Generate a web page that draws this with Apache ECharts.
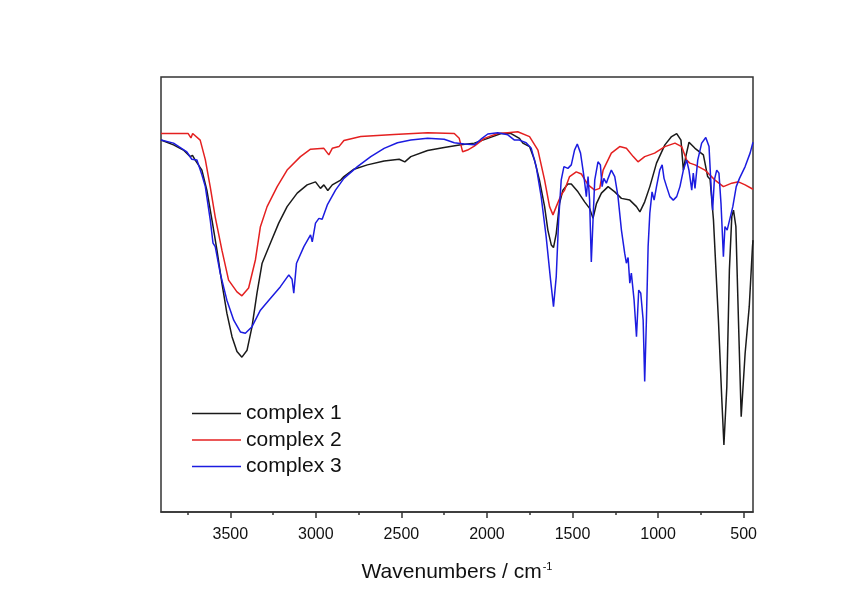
<!DOCTYPE html>
<html>
<head>
<meta charset="UTF-8" />
<title>IR spectra</title>
<script src="https://cdn.jsdelivr.net/npm/echarts@6/dist/echarts.min.js"></script>
<style>
  html, body { margin: 0; padding: 0; background: #fff; }
  #main { width: 858px; height: 606px; }
</style>
</head>
<body>
<div id="main"></div>
<script>
// wavenumber (cm-1) and transmittance (arb., 0-100)
var wn1 = [3905,3832,3774,3734,3721,3705,3666,3637,3607,3578,3549,3520,3490,3461,3432,3402,3373,3344,3314,3266,3217,3168,3109,3051,3002,2973,2953,2930,2904,2855,2836,2777,2699,2601,2513,2480,2445,2347,2250,2152,2074,1995,1917,1859,1810,1790,1751,1722,1693,1663,1644,1624,1611,1595,1576,1556,1527,1507,1468,1429,1400,1380,1360,1331,1292,1253,1214,1165,1126,1106,1078,1048,1009,960,921,891,866,852,838,819,784,735,710,696,676,647,628,615,598,583,569,559,545,530,514,491,467,448,445];
var t1  = [85.5,84.4,83.2,81.7,82.0,80.9,78.6,74.0,67.1,60.2,52.6,45.7,40.3,36.9,35.6,37.2,42.6,50.3,57.2,61.8,66.4,70.2,73.3,75.2,75.9,74.4,75.2,73.9,75.2,76.3,77.1,78.8,79.8,80.7,81.1,80.5,81.7,83.1,83.8,84.4,84.8,85.9,87.0,87.0,85.9,84.8,84.0,80.9,76.3,70.2,64.8,61.4,60.8,64.0,70.9,74.0,75.4,75.4,73.6,71.3,69.8,67.5,70.9,73.3,74.8,73.6,72.1,71.7,70.2,69.0,71.3,74.8,80.2,84.4,86.3,87.0,85.5,78.6,81.7,85.0,83.6,82.1,77.1,76.5,67.1,44.1,26.5,15.4,28.8,55.6,67.9,69.4,65.6,44.1,21.9,36.5,47.2,61.0,62.5];

var wn2 = [3905,3746,3730,3720,3676,3646,3617,3588,3549,3510,3461,3432,3393,3353,3324,3285,3226,3168,3090,3031,2953,2924,2904,2865,2836,2738,2543,2347,2191,2162,2142,2113,2074,2015,1937,1878,1820,1751,1702,1663,1634,1614,1595,1566,1546,1517,1478,1448,1409,1370,1341,1321,1273,1224,1185,1145,1117,1078,1020,960,901,862,833,814,784,726,667,618,569,530,491,445];
var t2  = [87.0,87.0,86.0,87.0,85.5,81.0,74.7,67.8,60.2,53.3,50.6,49.7,51.5,58.0,65.6,70.2,74.8,78.6,81.7,83.4,83.6,82.1,83.6,84.0,85.4,86.3,86.8,87.2,87.0,85.9,82.8,83.2,84.1,85.9,87.0,87.2,87.4,86.3,83.2,76.3,70.2,68.3,70.2,72.9,74.0,77.1,78.2,77.7,75.2,74.0,74.4,78.6,82.5,84.0,83.6,81.7,80.5,81.7,82.5,84.0,84.8,84.0,80.9,80.2,79.8,78.6,76.3,74.8,75.6,75.9,75.2,74.2];

var wn3 = [3905,3832,3754,3725,3695,3666,3646,3617,3601,3588,3559,3520,3480,3441,3412,3373,3324,3266,3207,3158,3139,3129,3113,3070,3031,3021,3002,2982,2963,2933,2885,2836,2757,2679,2601,2523,2445,2347,2250,2191,2133,2074,2035,1995,1937,1878,1839,1810,1771,1741,1712,1683,1654,1628,1611,1595,1581,1566,1550,1527,1507,1488,1472,1453,1433,1419,1409,1400,1390,1380,1370,1351,1337,1327,1317,1302,1292,1273,1253,1234,1214,1195,1185,1175,1165,1156,1140,1126,1113,1101,1087,1078,1068,1058,1048,1035,1023,1009,990,976,965,950,931,911,891,872,852,833,819,803,794,784,768,745,721,702,690,681,671,657,644,632,618,609,596,582,563,543,524,491,462,445];
var t3  = [85.5,84.8,82.8,81.1,80.9,77.5,74.8,67.1,61.8,61.0,54.9,48.7,44.1,41.4,41.1,42.6,46.4,49.1,51.8,54.5,53.5,50.3,57.2,61.0,63.7,62.1,66.4,67.5,67.3,70.6,74.0,76.7,79.4,81.7,83.6,84.9,85.5,85.9,85.7,84.9,84.6,84.4,85.7,86.9,87.2,86.7,85.5,85.5,84.9,83.6,79.4,72.5,63.3,53.3,47.2,54.1,67.1,76.3,79.4,79.0,79.8,83.2,84.6,82.5,77.1,72.5,77.1,71.7,57.5,67.1,76.3,80.5,79.8,74.8,76.7,75.6,76.7,78.6,77.1,72.5,64.8,59.5,57.2,58.5,52.6,54.9,48.7,40.3,51.0,50.3,44.1,30.0,44.1,61.0,68.7,73.6,71.7,74.8,78.6,79.8,76.7,74.8,72.5,71.7,72.5,74.8,78.6,80.9,78.5,74.0,77.9,74.4,80.9,84.8,86.1,84.0,74.8,69.4,76.3,78.6,77.9,70.9,58.7,65.6,64.8,67.1,70.2,74.8,76.7,79.4,82.5,85.0];

var names = ['complex 1', 'complex 2', 'complex 3'];
var colors = ['#1a1a1a', '#e42020', '#1c1ce0'];
var majorTicks = [500, 1000, 1500, 2000, 2500, 3000, 3500];
var minorTicks = [750, 1250, 1750, 2250, 2750, 3250, 3750];

function zip(a, b) {
    var out = [];
    for (var i = 0; i < a.length; i++) out.push([a[i], b[i]]);
    return out;
}

var chart = echarts.init(document.getElementById('main'), null, { renderer: 'canvas' });

var seriesData = [zip(wn1, t1), zip(wn2, t2), zip(wn3, t3)];
var font = 'Liberation Sans, Arial, sans-serif';

var option = {
    backgroundColor: '#fff',
    animation: false,
    grid: {
        left: 161, right: 105, top: 77, bottom: 94,
        show: true, borderColor: '#333', borderWidth: 1.5
    },
    legend: {
        orient: 'vertical',
        left: 192, top: 403,
        padding: 0,
        icon: 'rect',
        itemWidth: 49, itemHeight: 1.6,
        itemGap: 5.5,
        textStyle: { fontFamily: font, fontSize: 21, color: '#111' },
        data: names
    },
    xAxis: [{
        type: 'value',
        inverse: true,
        min: 445, max: 3905,
        axisLine: { show: true, lineStyle: { color: '#333', width: 1.5 } },
        axisTick: { show: true, customValues: majorTicks, length: 6, inside: false, lineStyle: { color: '#333', width: 1.5 } },
        axisLabel: {
            customValues: majorTicks, margin: 15,
            formatter: function (v) { return String(v); },
            fontFamily: font, fontSize: 16, color: '#111'
        },
        splitLine: { show: false },
        name: '{a|Wavenumbers / cm}{b|-1}',
        nameLocation: 'middle',
        nameGap: 49,
        nameTextStyle: {
            rich: {
                a: { fontFamily: font, fontSize: 21, color: '#111' },
                b: { fontFamily: font, fontSize: 11, color: '#111', verticalAlign: 'top', padding: [0, 0, 12, 1] }
            }
        }
    }, {
        type: 'value',
        inverse: true,
        position: 'bottom',
        min: 445, max: 3905,
        axisLine: { show: false },
        axisTick: { show: true, customValues: minorTicks, length: 3, lineStyle: { color: '#333', width: 1.5 } },
        axisLabel: { show: false },
        splitLine: { show: false }
    }],
    yAxis: {
        type: 'value',
        min: 0, max: 100,
        axisLine: { show: false },
        axisTick: { show: false },
        axisLabel: { show: false },
        splitLine: { show: false }
    },
    series: names.map(function (n, i) {
        return {
            name: n,
            type: 'line',
            xAxisIndex: 0,
            symbol: 'none',
            showSymbol: false,
            color: colors[i],
            lineStyle: { color: colors[i], width: 1.5 },
            data: seriesData[i]
        };
    })
};

chart.setOption(option);
</script>
</body>
</html>
